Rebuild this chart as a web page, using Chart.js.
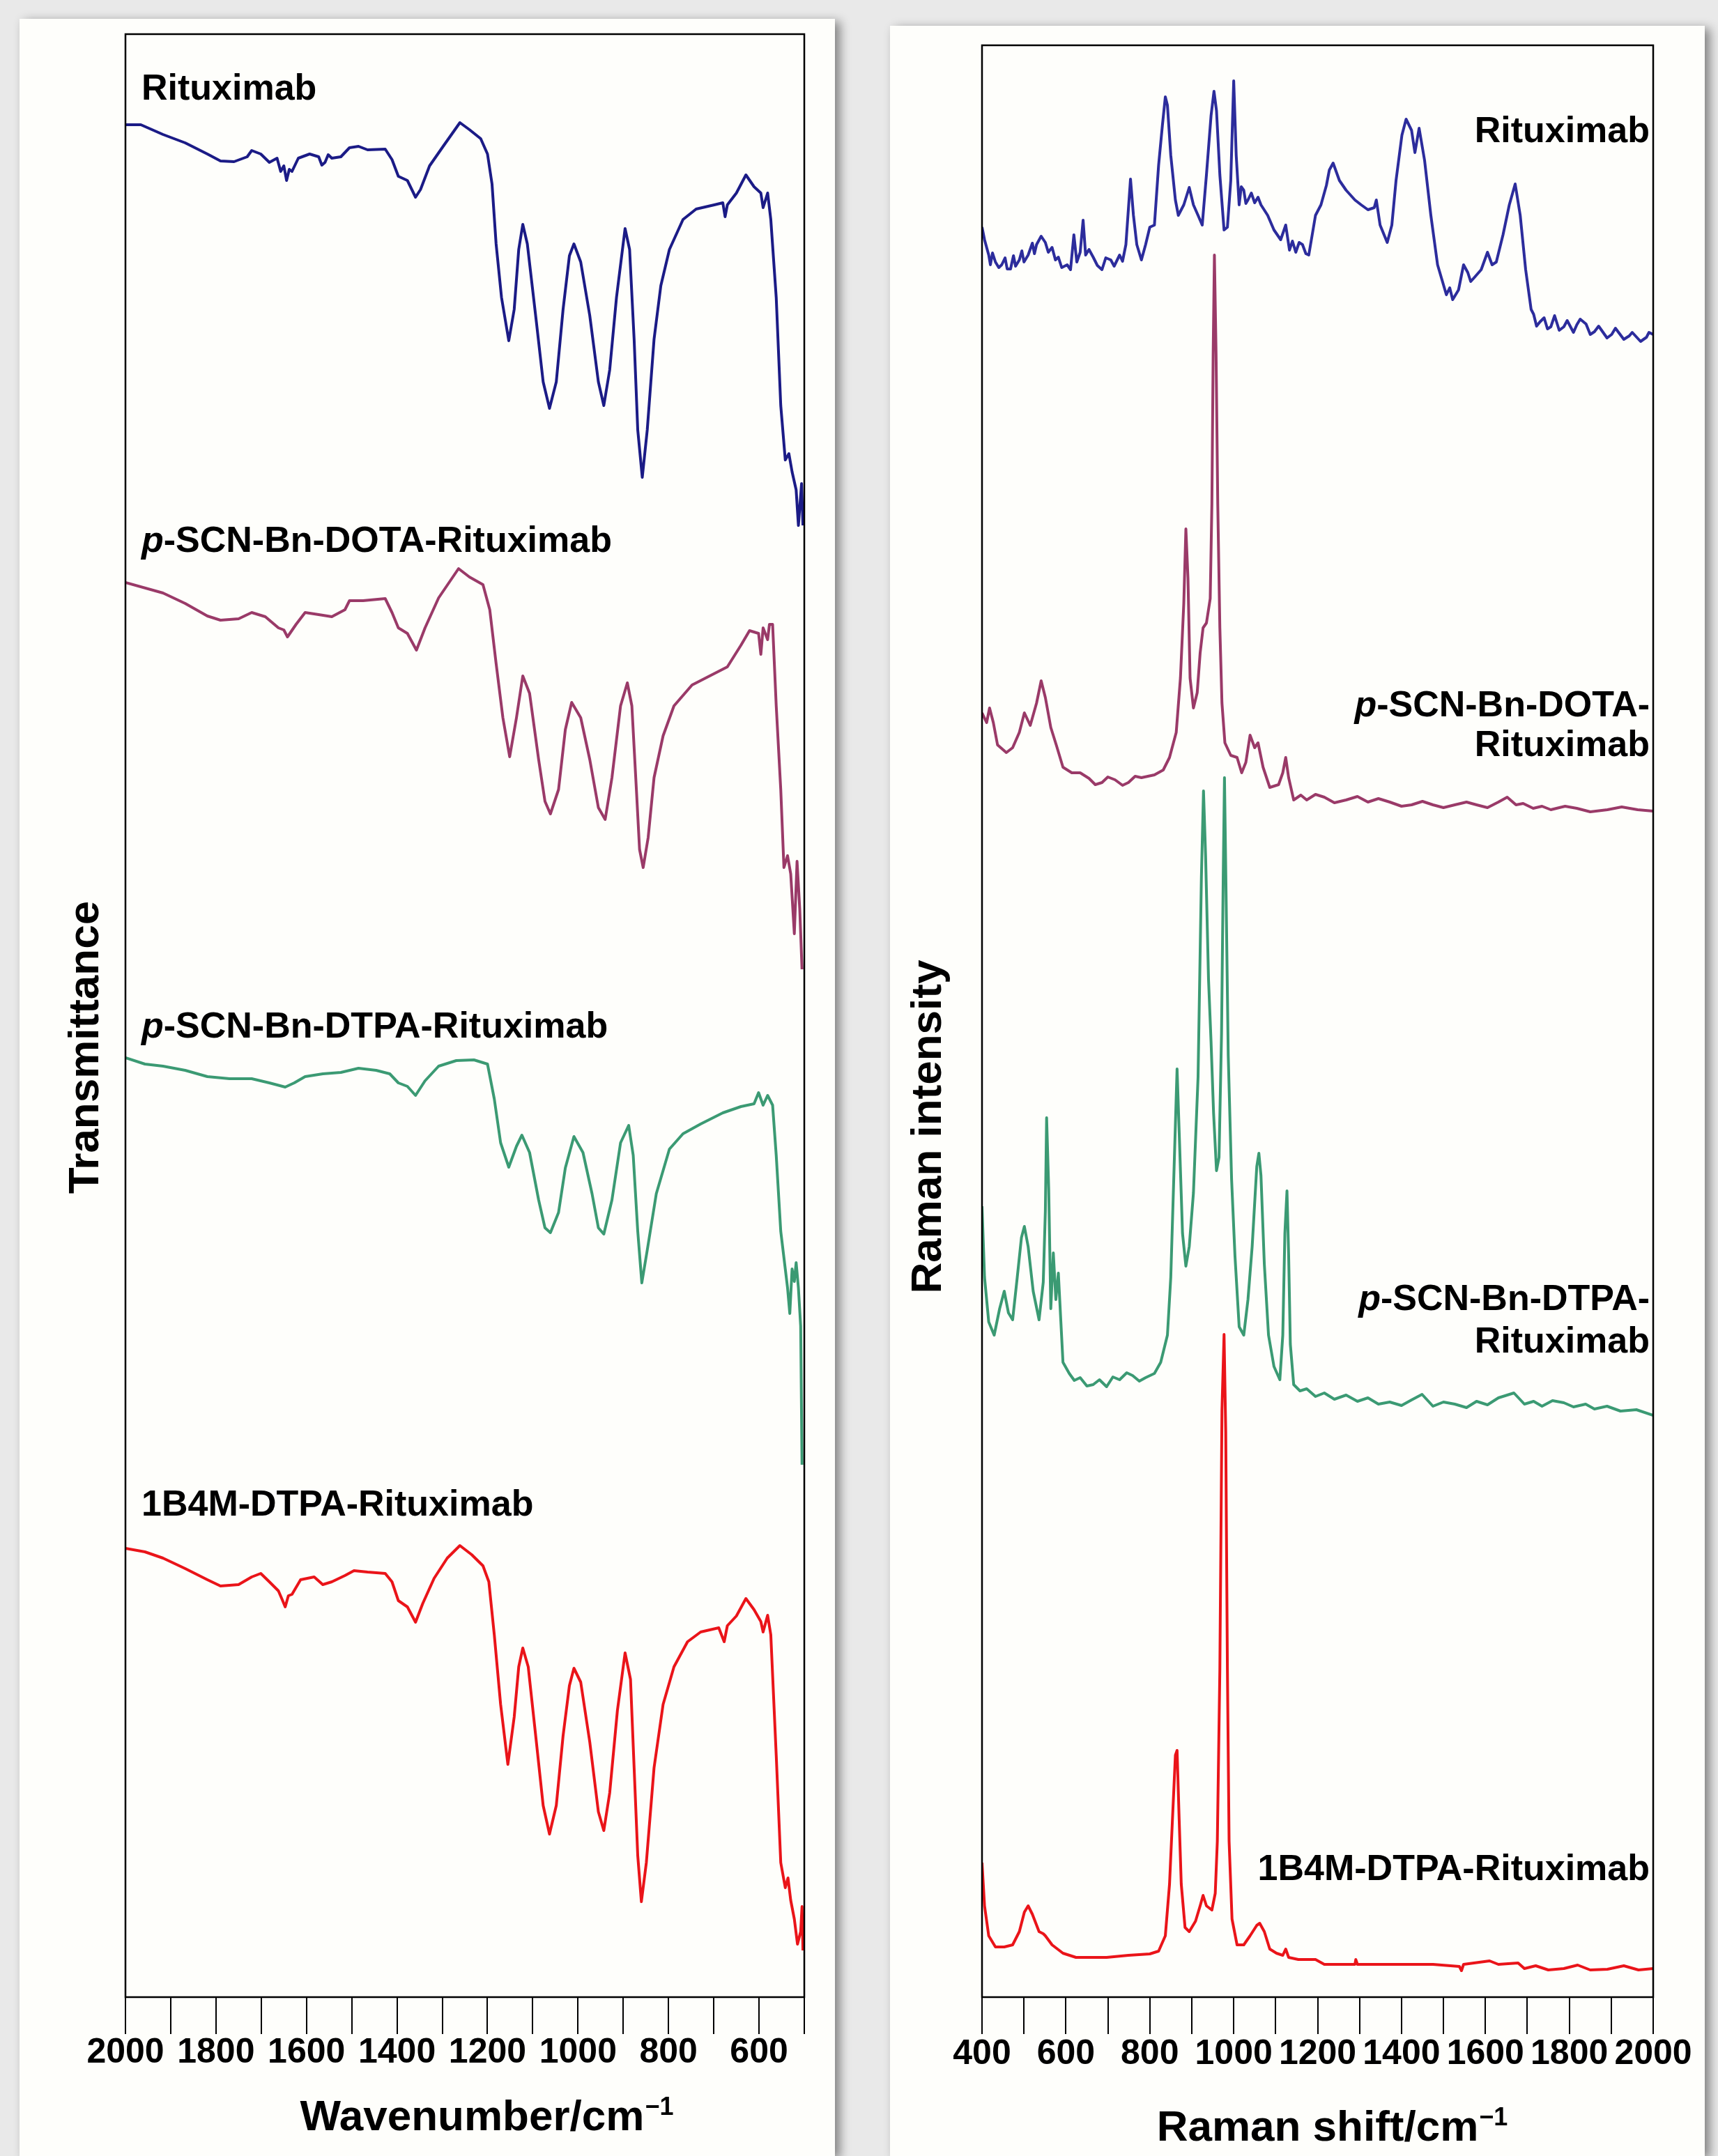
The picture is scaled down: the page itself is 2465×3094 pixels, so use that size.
<!DOCTYPE html>
<html>
<head>
<meta charset="utf-8">
<script src="https://cdn.jsdelivr.net/npm/chart.js@4.4.1/dist/chart.umd.min.js"></script>
<style>
  html, body { margin: 0; padding: 0; }
  body { width: 2465px; height: 3094px; background: #e9e9e9; position: relative; overflow: hidden; }
  .card { position: absolute; background: #fefefb; box-shadow: 7px 4px 14px rgba(0, 0, 0, 0.45); }
  #cardIR { left: 28px; top: 27px; width: 1170px; height: 3067px; }
  #cardRaman { left: 1277px; top: 37px; width: 1169px; height: 3057px; }
  canvas { display: block; }
</style>
</head>
<body>
<div class="card" id="cardIR"><canvas id="irChart" width="1170" height="3067"></canvas></div>
<div class="card" id="cardRaman"><canvas id="ramanChart" width="1169" height="3057"></canvas></div>
<script>
// Spectres : [nombre d'onde (cm-1), intensité (u.a., décalée)]

// --- IR (transmittance) ---
const irRituximab = [[2000,268.7],[1966,268.7],[1917,267.3],[1868,266.1],[1819,264.5],[1790,263.5],[1760,263.4],[1731,264.1],[1721,265.0],[1701,264.5],[1682,263.3],[1665,263.9],[1657,262.0],[1650,262.8],[1644,260.7],[1638,262.3],[1632,262.0],[1618,263.9],[1593,264.5],[1573,264.1],[1566,262.9],[1559,263.3],[1552,264.4],[1544,263.9],[1524,264.1],[1505,265.4],[1485,265.6],[1465,265.1],[1426,265.2],[1411,263.7],[1397,261.3],[1377,260.7],[1359,258.3],[1348,259.4],[1328,262.8],[1298,265.6],[1261,269.0],[1240,268.0],[1215,266.7],[1200,264.5],[1190,260.2],[1181,251.6],[1169,243.9],[1153,237.7],[1141,242.2],[1131,250.8],[1122,254.4],[1112,251.6],[1092,240.4],[1077,231.8],[1063,228.0],[1048,231.8],[1033,242.2],[1019,249.9],[1009,251.6],[994,249.0],[974,241.3],[955,231.8],[943,228.4],[930,233.5],[915,243.9],[896,253.8],[886,250.8],[876,237.9],[868,224.9],[858,218.1],[847,224.9],[832,237.9],[817,245.6],[798,250.8],[768,255.1],[739,256.6],[699,257.2],[680,257.5],[675,255.5],[670,257.2],[650,258.9],[629,261.5],[611,259.8],[596,258.9],[591,256.8],[581,258.9],[574,255.1],[562,243.9],[552,228.4],[542,220.6],[534,221.5],[527,218.9],[518,216.3],[513,211.2],[506,217.2],[503,211.2]];

const irDota = [[2000,203.0],[1917,201.5],[1868,200.0],[1819,198.2],[1790,197.6],[1750,197.8],[1721,198.7],[1691,198.1],[1662,196.5],[1650,196.2],[1642,195.2],[1623,197.0],[1603,198.7],[1573,198.4],[1544,198.1],[1515,199.1],[1505,200.4],[1475,200.4],[1426,200.7],[1411,198.7],[1397,196.5],[1377,195.7],[1357,193.3],[1338,196.5],[1308,200.8],[1264,205.0],[1240,203.8],[1210,202.7],[1195,199.1],[1181,191.4],[1166,183.6],[1151,178.0],[1136,183.6],[1122,189.6],[1107,187.1],[1087,177.6],[1073,171.6],[1061,169.8],[1043,173.3],[1028,181.9],[1014,185.8],[994,183.6],[974,177.6],[955,170.7],[940,169.0],[925,175.0],[906,185.3],[891,188.6],[881,185.3],[871,173.3],[864,164.7],[856,162.1],[845,166.4],[832,175.0],[812,181.0],[788,185.3],[748,188.3],[709,189.6],[670,190.9],[640,194.0],[621,196.1],[601,195.7],[596,192.7],[591,196.5],[581,194.8],[577,197.0],[570,197.0],[562,185.3],[552,173.3],[545,162.1],[537,163.8],[530,161.2],[522,152.6],[516,163.0],[510,156.1],[505,147.5]];

const irDtpa = [[2000,134.8],[1957,133.9],[1917,133.6],[1868,133.0],[1819,132.1],[1770,131.8],[1721,131.8],[1682,131.2],[1647,130.6],[1627,131.2],[1603,132.1],[1564,132.5],[1524,132.7],[1485,133.3],[1446,133.0],[1416,132.5],[1397,131.2],[1377,130.7],[1359,129.4],[1338,131.5],[1308,133.6],[1269,134.4],[1230,134.5],[1200,133.9],[1185,128.9],[1171,122.6],[1153,119.1],[1136,122.1],[1124,123.7],[1107,121.2],[1087,114.4],[1073,110.4],[1061,109.7],[1043,112.6],[1028,119.0],[1009,123.5],[989,121.2],[969,115.3],[955,110.4],[943,109.5],[925,114.4],[906,122.6],[888,125.1],[878,120.8],[868,109.9],[859,102.5],[847,107.2],[827,115.3],[798,121.7],[768,123.9],[729,125.3],[680,126.9],[640,127.8],[611,128.2],[601,129.8],[591,128.0],[581,129.4],[570,128.0],[562,120.8],[552,109.9],[542,104.5],[537,101.8],[532,98.1],[527,104.5],[522,102.7],[518,105.4],[513,101.8],[508,96.3],[505,76.4]];

const ir1b4m = [[2000,64.4],[1957,63.9],[1917,63.0],[1868,61.5],[1819,59.9],[1790,59.0],[1750,59.2],[1721,60.3],[1701,60.8],[1682,59.6],[1662,58.3],[1654,57.1],[1647,56.0],[1640,57.6],[1632,57.8],[1613,59.9],[1583,60.3],[1564,59.2],[1544,59.6],[1515,60.5],[1495,61.2],[1465,61.0],[1426,60.8],[1411,59.6],[1397,56.9],[1377,56.0],[1359,53.8],[1343,56.5],[1318,60.1],[1289,63.0],[1261,64.8],[1235,63.5],[1210,61.9],[1197,59.6],[1185,52.0],[1171,42.0],[1155,33.4],[1141,40.2],[1131,47.4],[1122,50.1],[1110,47.4],[1092,36.6],[1077,27.5],[1063,23.4],[1048,27.5],[1033,37.5],[1019,44.7],[1009,47.2],[994,45.2],[974,36.6],[955,26.6],[943,23.9],[930,29.3],[913,41.1],[896,49.4],[884,45.6],[876,32.9],[868,20.3],[860,13.7],[849,19.3],[832,32.9],[812,42.0],[788,47.4],[758,51.0],[729,52.4],[689,53.0],[677,51.0],[670,53.3],[650,54.7],[629,57.2],[611,55.6],[596,53.9],[591,52.4],[581,54.8],[574,52.0],[562,34.7],[552,19.3],[542,15.7],[536,17.1],[530,13.9],[522,11.2],[515,7.6],[508,9.4],[505,13.0],[503,6.7]];

// --- Raman ---
const ramanRituximab = [[400,254.0],[406,252.2],[416,250.0],[420,248.6],[425,250.3],[432,249.0],[440,248.2],[447,248.6],[455,249.6],[460,248.0],[468,248.0],[475,249.9],[480,248.4],[489,249.3],[495,250.6],[500,249.0],[510,250.0],[520,251.7],[525,250.2],[530,251.5],[541,252.7],[551,251.8],[558,250.4],[567,251.1],[575,249.3],[582,249.7],[590,248.2],[603,248.6],[611,247.9],[619,252.9],[626,249.0],[634,250.4],[641,255.0],[647,250.0],[655,250.8],[665,249.7],[675,248.5],[686,247.9],[695,249.6],[707,249.3],[715,248.4],[728,250.0],[735,249.1],[743,251.5],[754,260.9],[761,255.7],[769,251.5],[780,249.3],[790,251.5],[800,254.0],[811,254.3],[821,262.9],[830,268.6],[837,272.7],[842,271.5],[850,264.3],[861,257.9],[868,255.7],[881,257.2],[894,259.7],[904,257.2],[915,255.7],[925,254.3],[935,261.5],[946,270.0],[953,273.5],[959,270.7],[967,261.5],[977,253.6],[985,254.0],[993,260.7],[1000,275.0],[1006,264.3],[1013,257.2],[1018,259.8],[1024,259.3],[1029,257.4],[1034,257.9],[1042,258.9],[1050,257.5],[1058,258.3],[1065,257.2],[1081,255.7],[1096,253.6],[1112,252.2],[1124,254.3],[1133,250.7],[1140,252.0],[1148,250.4],[1156,251.8],[1164,251.5],[1172,250.2],[1179,250.0],[1195,255.7],[1208,257.2],[1221,260.0],[1228,262.2],[1237,263.2],[1252,260.7],[1268,259.3],[1289,257.9],[1304,257.2],[1320,256.5],[1335,256.8],[1340,257.9],[1349,254.3],[1366,251.8],[1377,254.3],[1387,260.7],[1401,267.2],[1411,269.5],[1424,267.9],[1432,264.7],[1442,268.2],[1455,263.6],[1470,255.7],[1486,248.6],[1507,244.3],[1515,245.3],[1522,243.6],[1536,245.0],[1548,248.6],[1558,247.5],[1565,246.2],[1574,246.8],[1590,247.9],[1605,250.4],[1616,248.6],[1626,249.0],[1642,252.9],[1657,257.2],[1671,260.2],[1683,255.7],[1696,247.9],[1709,242.2],[1715,241.5],[1722,239.8],[1730,240.4],[1740,241.0],[1748,239.4],[1756,239.7],[1765,241.3],[1776,239.2],[1787,239.7],[1795,240.6],[1810,238.9],[1818,240.0],[1826,240.8],[1840,240.1],[1850,238.6],[1860,239.0],[1870,239.8],[1890,238.1],[1901,238.6],[1910,239.5],[1930,237.9],[1943,238.4],[1950,238.9],[1970,237.6],[1984,238.2],[1990,238.9],[2000,238.6]];

const ramanDota = [[400,184.3],[411,182.9],[418,185.0],[427,182.9],[437,179.7],[458,178.6],[473,179.3],[489,181.5],[501,184.3],[515,182.5],[530,185.7],[541,188.9],[551,186.5],[564,182.2],[577,179.7],[593,176.5],[614,175.7],[634,175.7],[655,174.9],[670,174.0],[686,174.3],[700,175.1],[717,174.7],[735,173.9],[749,174.3],[765,175.2],[780,175.0],[811,175.4],[832,176.1],[847,177.9],[863,181.5],[873,189.3],[881,200.0],[886,210.7],[891,203.6],[896,189.3],[904,185.0],[913,187.2],[920,192.9],[927,196.5],[935,197.2],[944,200.7],[948,214.3],[951,235.7],[954,250.0],[958,235.7],[962,214.3],[967,196.5],[972,185.7],[979,180.0],[993,178.2],[1008,177.9],[1019,175.7],[1029,177.2],[1039,181.1],[1050,179.3],[1058,180.0],[1070,176.5],[1086,173.6],[1107,174.0],[1117,175.7],[1124,177.9],[1131,175.0],[1143,171.8],[1160,172.5],[1174,171.8],[1195,172.6],[1216,172.2],[1240,171.4],[1268,171.8],[1295,172.3],[1320,171.5],[1345,172.0],[1372,171.5],[1400,170.9],[1424,171.1],[1450,171.6],[1475,171.1],[1500,170.7],[1527,171.1],[1555,171.5],[1579,171.1],[1605,170.7],[1631,171.5],[1652,172.2],[1673,171.1],[1690,171.3],[1714,170.6],[1735,170.9],[1756,170.4],[1790,170.9],[1818,170.6],[1850,170.1],[1891,170.4],[1925,170.8],[1963,170.4],[2000,170.2]];

const ramanDtpa = [[400,113.5],[406,103.3],[416,96.9],[429,95.0],[442,98.8],[453,101.3],[463,98.2],[473,97.2],[484,103.3],[494,109.0],[501,110.6],[510,107.7],[522,101.3],[536,97.2],[546,102.6],[551,112.8],[554,126.2],[559,116.0],[564,98.8],[570,106.8],[576,100.1],[582,103.9],[588,96.9],[593,91.1],[608,89.5],[620,88.5],[634,88.9],[650,87.7],[665,87.9],[680,88.6],[697,87.6],[712,89.0],[728,88.6],[745,89.6],[759,89.2],[775,88.4],[790,88.9],[811,89.5],[826,91.1],[842,95.0],[850,103.3],[858,119.2],[865,133.2],[871,122.4],[878,109.6],[886,104.9],[894,107.7],[904,115.4],[915,132.0],[923,160.7],[928,173.1],[933,163.8],[940,146.0],[946,137.1],[952,126.9],[959,118.6],[965,120.5],[971,138.3],[975,160.7],[978,175.0],[982,157.5],[987,135.1],[995,117.3],[1003,106.4],[1013,96.2],[1024,95.0],[1034,100.1],[1044,107.7],[1055,119.2],[1060,121.1],[1065,117.9],[1073,105.2],[1083,95.0],[1096,90.5],[1110,88.6],[1117,95.0],[1122,109.6],[1127,115.7],[1131,106.4],[1135,93.7],[1143,87.9],[1158,87.0],[1174,87.3],[1195,86.2],[1216,86.7],[1240,85.8],[1268,86.4],[1295,85.5],[1320,86.0],[1345,85.1],[1372,85.4],[1400,84.9],[1424,85.7],[1449,86.5],[1475,84.8],[1500,85.4],[1527,85.1],[1555,84.6],[1579,85.5],[1605,85.0],[1631,86.0],[1668,86.7],[1693,85.1],[1715,85.5],[1735,84.8],[1760,85.6],[1787,85.3],[1810,84.7],[1839,85.1],[1860,84.4],[1890,84.8],[1922,84.1],[1960,84.3],[2000,83.5]];

const raman1b4m = [[400,19.3],[406,13.1],[416,8.8],[432,7.2],[453,7.2],[473,7.5],[489,9.4],[501,12.2],[510,13.1],[520,11.9],[536,9.4],[546,9.1],[551,8.8],[567,7.5],[593,6.3],[624,5.7],[655,5.7],[697,5.7],[749,6.0],[800,6.2],[821,6.6],[837,8.8],[847,16.2],[854,25.5],[861,34.7],[865,35.4],[870,25.5],[875,16.2],[884,10.0],[894,9.4],[909,10.9],[920,13.1],[927,14.6],[935,13.1],[948,12.5],[956,14.9],[961,22.4],[967,47.1],[972,84.2],[977,95.1],[981,81.1],[985,47.1],[989,22.4],[996,11.2],[1008,7.5],[1024,7.5],[1039,8.8],[1055,10.3],[1062,10.6],[1073,9.4],[1086,6.9],[1102,6.3],[1117,6.0],[1124,6.9],[1131,5.7],[1154,5.4],[1195,5.4],[1216,4.7],[1289,4.7],[1291,5.4],[1295,4.7],[1372,4.7],[1475,4.7],[1538,4.4],[1543,3.8],[1548,4.7],[1610,5.2],[1631,4.7],[1678,4.9],[1693,4.1],[1720,4.5],[1750,3.9],[1787,4.1],[1820,4.6],[1850,3.9],[1891,4.0],[1930,4.5],[1965,3.9],[2000,4.1]];

const FONT = '"Liberation Sans", Arial, sans-serif';
Chart.defaults.font.family = FONT;

// Dibuja textos con la "p" en cursiva
function drawParts(ctx, parts, x, y, align) {
  const fonts = parts.map(p => (p.italic ? 'italic ' : '') + 'bold 52px ' + FONT);
  let total = 0;
  const widths = parts.map((p, i) => {
    ctx.font = fonts[i];
    const w = ctx.measureText(p.text).width;
    total += w;
    return w;
  });
  let cx = align === 'right' ? x - total : x;
  ctx.textAlign = 'left';
  parts.forEach((p, i) => {
    ctx.font = fonts[i];
    ctx.fillText(p.text, cx, y);
    cx += widths[i];
  });
}

function drawTitle(ctx, t) {
  ctx.save();
  ctx.translate(t.x, t.y);
  if (t.vertical) ctx.rotate(-Math.PI / 2);
  ctx.font = 'bold 62px ' + FONT;
  const w1 = ctx.measureText(t.text).width;
  let w2 = 0;
  if (t.sup) {
    ctx.font = 'bold 36px ' + FONT;
    w2 = ctx.measureText(t.sup).width;
  }
  const x0 = -(w1 + w2) / 2;
  ctx.textAlign = 'left';
  ctx.textBaseline = 'middle';
  ctx.font = 'bold 62px ' + FONT;
  ctx.fillText(t.text, x0, 0);
  if (t.sup) {
    ctx.font = 'bold 36px ' + FONT;
    ctx.fillText(t.sup, x0 + w1 + 1, -15);
  }
  ctx.restore();
}

// Marco del área, etiquetas de las curvas y títulos de los ejes
const panelText = {
  id: 'panelText',
  afterDraw(chart, args, opts) {
    const ctx = chart.ctx;
    const a = chart.chartArea;
    ctx.save();
    ctx.strokeStyle = '#000';
    ctx.lineWidth = 2.5;
    ctx.strokeRect(a.left, a.top, a.right - a.left, a.bottom - a.top);
    ctx.fillStyle = '#000';
    ctx.textBaseline = 'middle';
    opts.labels.forEach(l => drawParts(ctx, l.parts, l.x, l.y, l.align));
    drawTitle(ctx, opts.xTitle);
    drawTitle(ctx, opts.yTitle);
    ctx.restore();
  }
};

function toPoints(arr) {
  return arr.map(p => ({ x: p[0], y: p[1] }));
}

function line(arr, color) {
  return {
    data: toPoints(arr),
    borderColor: color,
    borderWidth: 4,
    pointRadius: 0,
    tension: 0,
    borderJoinStyle: 'round'
  };
}

function xAxis(min, max, reverse, pad) {
  return {
    type: 'linear',
    min: min,
    max: max,
    reverse: reverse,
    afterFit: s => { s.height = 228; },
    border: { display: false },
    grid: { display: true, drawOnChartArea: false, drawTicks: true, tickLength: 53, color: '#000', lineWidth: 2 },
    ticks: {
      stepSize: 100,
      autoSkip: false,
      maxRotation: 0,
      minRotation: 0,
      padding: pad,
      color: '#000',
      font: { size: 50, weight: 'bold', lineHeight: 1 },
      callback: v => (v % 200 === 0 ? String(v) : '')
    }
  };
}

function yAxis(max, width) {
  return {
    type: 'linear',
    min: 0,
    max: max,
    afterFit: s => { s.width = width; },
    ticks: { display: false },
    grid: { display: false },
    border: { display: false }
  };
}

const lab = (text, italic) => (italic ? [{ text: 'p', italic: true }, { text: text }] : [{ text: text }]);

new Chart(document.getElementById('irChart'), {
  type: 'line',
  data: {
    datasets: [
      line(irRituximab, '#1b1b86'),
      line(irDota, '#9a3a68'),
      line(irDtpa, '#3b9a73'),
      line(ir1b4m, '#ea1419')
    ]
  },
  options: {
    responsive: false,
    animation: false,
    devicePixelRatio: 1,
    layout: { padding: { top: 22, right: 44, left: 0, bottom: 0 } },
    scales: { x: xAxis(500, 2000, true, 2), y: yAxis(281.7, 152) },
    plugins: {
      legend: { display: false },
      tooltip: { enabled: false },
      panelText: {
        labels: [
          { parts: lab('Rituximab'), x: 175, y: 102, align: 'left' },
          { parts: lab('-SCN-Bn-DOTA-Rituximab', true), x: 175, y: 751, align: 'left' },
          { parts: lab('-SCN-Bn-DTPA-Rituximab', true), x: 175, y: 1448, align: 'left' },
          { parts: lab('1B4M-DTPA-Rituximab'), x: 175, y: 2134, align: 'left' }
        ],
        xTitle: { text: 'Wavenumber/cm', sup: '\u22121', x: 670, y: 3013 },
        yTitle: { text: 'Transmittance', x: 96, y: 1476, vertical: true }
      }
    }
  },
  plugins: [panelText]
});

new Chart(document.getElementById('ramanChart'), {
  type: 'line',
  data: {
    datasets: [
      line(ramanRituximab, '#2c2c9c'),
      line(ramanDota, '#9a3a68'),
      line(ramanDtpa, '#3b9a73'),
      line(raman1b4m, '#ea1419')
    ]
  },
  options: {
    responsive: false,
    animation: false,
    devicePixelRatio: 1,
    layout: { padding: { top: 28, right: 74, left: 0, bottom: 0 } },
    scales: { x: xAxis(400, 2000, false, 4), y: yAxis(280.1, 132) },
    plugins: {
      legend: { display: false },
      tooltip: { enabled: false },
      panelText: {
        labels: [
          { parts: lab('Rituximab'), x: 1090, y: 153, align: 'right' },
          { parts: lab('-SCN-Bn-DOTA-', true), x: 1090, y: 977, align: 'right' },
          { parts: lab('Rituximab'), x: 1090, y: 1034, align: 'right' },
          { parts: lab('-SCN-Bn-DTPA-', true), x: 1090, y: 1829, align: 'right' },
          { parts: lab('Rituximab'), x: 1090, y: 1890, align: 'right' },
          { parts: lab('1B4M-DTPA-Rituximab'), x: 1090, y: 2647, align: 'right' }
        ],
        xTitle: { text: 'Raman shift/cm', sup: '\u22121', x: 634, y: 3018 },
        yTitle: { text: 'Raman intensity', x: 56, y: 1580, vertical: true }
      }
    }
  },
  plugins: [panelText]
});
</script>
</body>
</html>
